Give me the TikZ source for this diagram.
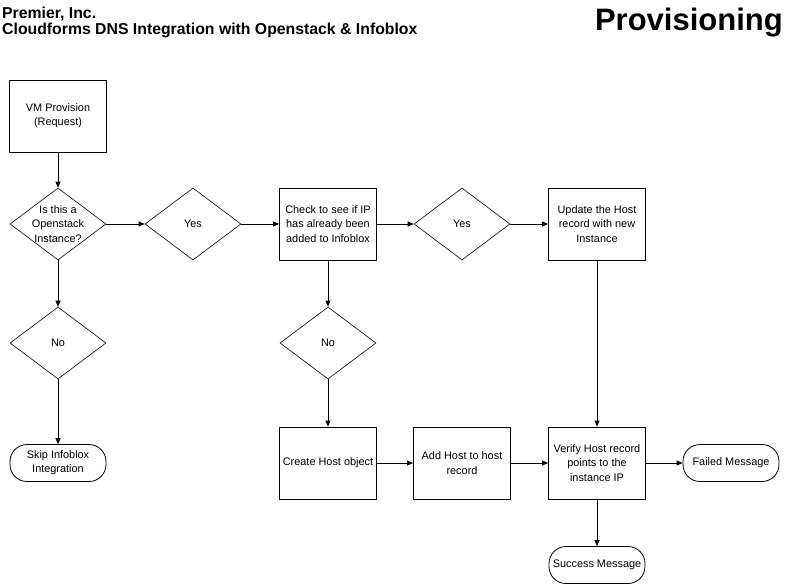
\documentclass[tikz,border=0pt]{standalone}
\usepackage{fontspec}
\setmainfont{Liberation Sans}
\usetikzlibrary{shapes.geometric,arrows.meta}
\tikzset{
	box/.style={draw, line width=0.8pt, minimum width=97pt, minimum height=72pt, align=center, inner sep=2pt},
	choice/.style={draw, diamond, line width=0.6pt, minimum width=96pt, minimum height=72pt, aspect=1.333, inner sep=-12pt, align=center},
	term/.style={draw, line width=0.8pt, rounded corners=17pt, minimum width=96pt, minimum height=37pt, align=center, inner sep=2pt},
	arr/.style={line width=0.8pt, -{Triangle[length=6pt,width=5pt]}}
}
\begin{document}
\begin{tikzpicture}[x=1pt, y=-1pt, every node/.style={font=\fontsize{10.9}{14.3}\selectfont}]
	\useasboundingbox (0,0) rectangle (788,584);
	% titles
	\node[anchor=north west, align=left, inner sep=0pt, font=\bfseries\fontsize{15.8}{16}\selectfont] (title) at (2,7) {Premier, Inc.\\Cloudforms DNS Integration with Openstack \& Infoblox};
	\node[anchor=north east, inner sep=0pt, font=\bfseries\fontsize{31}{32}\selectfont] (heading) at (783,8) {Provisioning};
	% top row
	\node[box] (vm) at (58,116) {VM Provision\\(Request)};
	\node[choice] (q1) at (58,224) {Is this a\\Openstack\\Instance?};
	\node[choice] (yes1) at (193,224) {Yes};
	\node[box] (check) at (328,224) {Check to see if IP\\has already been\\added to Infoblox};
	\node[choice] (yes2) at (462,224) {Yes};
	\node[box] (upd) at (597,224) {Update the Host\\record with new\\Instance};
	% middle row
	\node[choice] (no1) at (58,343) {No};
	\node[choice] (no2) at (328,343) {No};
	% bottom row
	\node[term] (skip) at (58,463) {Skip Infoblox\\Integration};
	\node[box] (create) at (328,463) {Create Host object};
	\node[box] (add) at (462,463) {Add Host to host\\record};
	\node[box] (ver) at (597,463) {Verify Host record\\points to the\\instance IP};
	\node[term] (fail) at (731,463) {Failed Message};
	\node[term] (ok) at (597,565) {Success Message};
	% connectors
	\draw[arr] (vm) -- (q1);
	\draw[arr] (q1) -- (yes1);
	\draw[arr] (yes1) -- (check);
	\draw[arr] (check) -- (yes2);
	\draw[arr] (yes2) -- (upd);
	\draw[arr] (upd) -- (ver);
	\draw[arr] (q1) -- (no1);
	\draw[arr] (no1) -- (skip);
	\draw[arr] (check) -- (no2);
	\draw[arr] (no2) -- (create);
	\draw[arr] (create) -- (add);
	\draw[arr] (add) -- (ver);
	\draw[arr] (ver) -- (fail);
	\draw[arr] (ver) -- (ok);
\end{tikzpicture}
\end{document}
